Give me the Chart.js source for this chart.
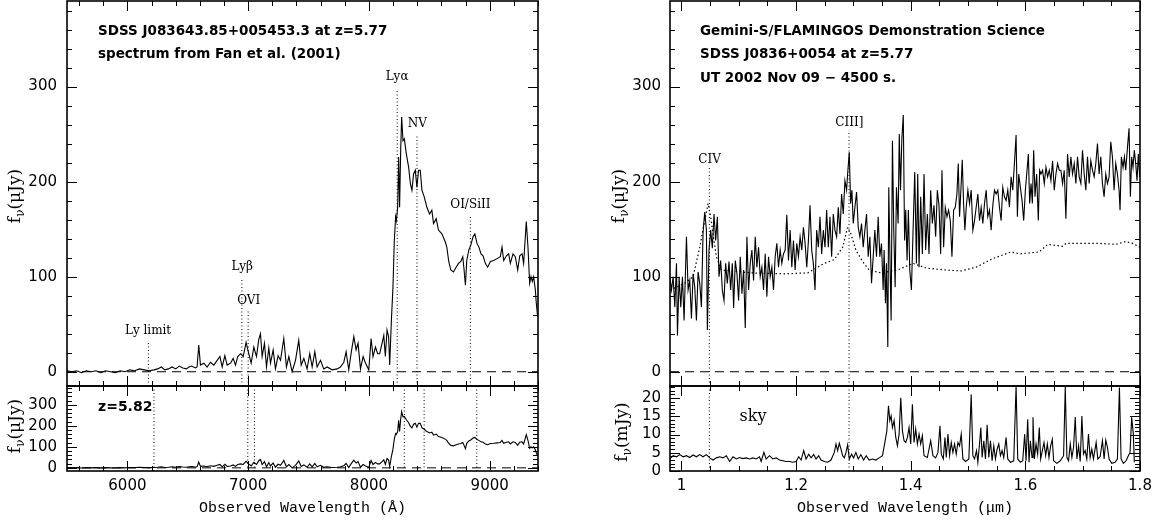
<!DOCTYPE html>
<html>
<head>
<meta charset="utf-8">
<script src="https://cdn.jsdelivr.net/npm/chart.js@4"></script>
<style>
  html, body { margin: 0; padding: 0; background: #fff; }
  #wrap { position: relative; width: 1159px; height: 522px; overflow: hidden; }
  #wrap canvas { position: absolute; }
</style>
</head>
<body>
<div id="wrap">
  <canvas id="tl" width="560" height="392" style="left:0;top:0"></canvas>
  <canvas id="bl" width="560" height="142" style="left:0;top:380px"></canvas>
  <canvas id="tr" width="569" height="392" style="left:590px;top:0"></canvas>
  <canvas id="br" width="569" height="142" style="left:590px;top:380px"></canvas>
</div>
<script>
// ---- data: SDSS optical spectrum (Angstrom, microJy)
var leftWave = [
  5500,5540,5580,5620,5660,5700,5740,5780,5820,5860,
  5900,5940,5980,6020,6060,6100,6140,6180,6220,6251,
  6281,6310,6340,6370,6400,6429,6459,6488,6510,6532,
  6562,6577,6591,6605,6633,6660,6688,6716,6743,6766,
  6785,6807,6826,6854,6876,6895,6914,6937,6959,6983,
  7005,7025,7047,7069,7088,7102,7116,7135,7152,7171,
  7185,7207,7226,7248,7268,7295,7317,7337,7364,7392,
  7419,7439,7461,7488,7510,7530,7552,7571,7599,7626,
  7654,7695,7737,7764,7792,7811,7833,7852,7875,7894,
  7910,7930,7952,7972,7999,8018,8034,8054,8072,8089,
  8109,8123,8136,8150,8163,8172,8186,8199,8210,8221,
  8227,8238,8246,8254,8263,8271,8282,8293,8310,8329,
  8343,8356,8370,8384,8397,8411,8425,8439,8458,8480,
  8502,8521,8535,8557,8576,8604,8631,8645,8661,8678,
  8700,8722,8742,8761,8777,8788,8799,8810,8827,8843,
  8862,8877,8895,8911,8928,8945,8964,8983,9006,9033,
  9061,9088,9102,9116,9138,9157,9171,9193,9212,9232,
  9249,9268,9281,9303,9317,9331,9342,9353,9364,9378,
  9386,9397
];
var leftFlux = [
  1,0,1,-1,1,0,1,-1,1,0,
  -1,1,0,2,1,3,2,1,2,3,
  5,2,3,5,3,6,4,3,5,6,
  4,5,28,7,9,5,10,7,12,16,
  5,17,7,9,14,7,16,19,16,31,
  19,9,26,16,34,40,16,30,5,25,
  9,23,3,17,12,35,5,16,0,12,
  33,7,14,3,19,5,21,5,12,3,
  5,2,3,5,10,21,2,19,37,23,
  30,3,16,9,2,35,16,26,19,19,
  30,38,16,44,37,7,54,89,137,163,
  159,173,226,173,233,268,243,245,229,215,
  198,191,208,212,194,212,212,191,184,173,
  166,170,156,161,149,145,137,131,116,107,
  105,110,114,116,121,107,91,117,128,133,
  142,145,135,131,124,122,114,110,116,117,
  119,121,131,117,122,124,114,124,121,107,
  122,124,114,158,131,93,100,95,100,86,
  72,58
];

// ---- data: FLAMINGOS near-IR spectrum (micron, microJy)
var rightWave = [
  0.9797,0.9826,0.9855,0.9884,0.9913,0.9930,0.9959,0.9988,1.0017,1.0046,
  1.0087,1.0116,1.0145,1.0174,1.0203,1.0232,1.0261,1.0290,1.0319,1.0348,
  1.0377,1.0406,1.0435,1.0452,1.0481,1.0510,1.0539,1.0568,1.0597,1.0626,
  1.0655,1.0684,1.0713,1.0742,1.0771,1.0800,1.0829,1.0858,1.0887,1.0910,
  1.0939,1.0968,1.0997,1.1026,1.1055,1.1084,1.1113,1.1142,1.1171,1.1200,
  1.1229,1.1258,1.1287,1.1316,1.1345,1.1374,1.1403,1.1432,1.1461,1.1490,
  1.1519,1.1548,1.1577,1.1606,1.1635,1.1664,1.1693,1.1722,1.1751,1.1780,
  1.1809,1.1838,1.1867,1.1896,1.1925,1.1954,1.1983,1.2012,1.2041,1.2070,
  1.2099,1.2128,1.2157,1.2186,1.2214,1.2243,1.2272,1.2301,1.2330,1.2359,
  1.2388,1.2417,1.2446,1.2475,1.2504,1.2533,1.2562,1.2591,1.2620,1.2649,
  1.2678,1.2707,1.2736,1.2765,1.2794,1.2823,1.2852,1.2881,1.2899,1.2928,
  1.2951,1.2974,1.2997,1.3026,1.3055,1.3084,1.3113,1.3142,1.3171,1.3200,
  1.3229,1.3258,1.3287,1.3316,1.3345,1.3374,1.3403,1.3432,1.3461,1.3490,
  1.3519,1.3536,1.3559,1.3577,1.3600,1.3617,1.3641,1.3658,1.3681,1.3704,
  1.3728,1.3751,1.3780,1.3800,1.3822,1.3845,1.3870,1.3893,
  1.3913,1.3936,1.3959,1.3983,1.4012,1.4041,1.4070,1.4099,1.4122,1.4145,
  1.4174,1.4203,1.4232,1.4261,1.4290,1.4319,1.4348,1.4377,1.4406,1.4435,
  1.4464,1.4493,1.4522,1.4545,1.4574,1.4603,1.4632,1.4661,1.4690,1.4719,
  1.4748,1.4777,1.4806,1.4829,1.4852,1.4875,1.4899,1.4922,1.4945,1.4968,
  1.4997,1.5026,1.5055,1.5084,1.5113,1.5142,1.5171,1.5200,1.5229,1.5258,
  1.5287,1.5316,1.5345,1.5374,1.5403,1.5432,1.5461,1.5490,1.5519,1.5548,
  1.5577,1.5606,1.5635,1.5664,1.5693,1.5722,1.5751,1.5780,1.5809,1.5838,
  1.5861,1.5884,1.5913,1.5942,1.5971,1.6000,1.6029,1.6052,1.6075,1.6099,
  1.6122,1.6145,1.6168,1.6197,1.6226,1.6249,1.6272,1.6301,1.6330,1.6359,
  1.6388,1.6417,1.6446,1.6475,1.6504,1.6533,1.6562,1.6591,1.6620,1.6649,
  1.6678,1.6707,1.6736,1.6765,1.6794,1.6823,1.6852,1.6881,1.6910,1.6939,
  1.6968,1.6997,1.7026,1.7055,1.7084,1.7113,1.7142,1.7171,1.7200,1.7229,
  1.7258,1.7287,1.7316,1.7345,1.7374,1.7403,1.7432,1.7461,1.7490,1.7519,
  1.7548,1.7577,1.7606,1.7635,1.7652,1.7675,1.7704,1.7728,1.7751,1.7780,
  1.7809,1.7832,1.7855,1.7878,1.7901,1.7925,1.7948,1.7971,1.7994
];
var rightFlux = [
  100,86,100,68,114,38,100,68,100,54,
  142,86,96,56,103,89,54,105,93,68,
  147,168,149,44,128,149,130,166,138,163,
  100,117,86,75,114,93,116,86,114,67,
  117,103,75,121,82,107,46,142,86,114,
  128,96,142,110,131,100,110,86,124,79,
  121,100,110,86,121,135,110,128,114,124,
  128,165,117,149,110,138,107,135,121,142,
  128,152,135,110,137,175,128,114,86,149,
  131,163,124,149,131,170,131,163,121,166,
  149,142,173,145,187,166,201,191,208,231,
  177,191,156,173,189,152,142,156,131,149,
  166,121,142,93,121,149,121,163,121,135,
  86,128,72,114,26,194,107,54,243,149,
  89,194,156,250,191,245,270,138,
  170,117,170,107,86,149,210,114,208,110,
  184,124,208,128,166,124,191,156,175,142,
  191,175,124,212,131,173,163,170,159,121,
  170,173,187,219,163,191,223,177,149,173,
  191,177,191,149,159,173,187,159,173,156,
  177,191,163,170,149,175,191,187,191,173,
  159,194,184,180,191,173,205,191,219,249,
  163,208,194,180,159,191,212,229,177,198,
  177,233,184,208,159,212,208,212,198,215,
  205,212,201,222,191,208,219,212,212,198,
  212,161,229,205,226,208,219,198,226,205,
  198,233,208,191,226,198,222,212,205,219,
  240,208,226,198,184,208,198,205,242,226,
  191,219,208,191,170,226,215,226,212,235,
  256,184,226,215,233,219,201,229,205
];

// ---- data: composite quasar template shown dotted (micron, microJy)
var tplWave = [0.98,1.0058,1.0203,1.0319,1.0406,1.0464,1.051,1.0551,1.0609,1.0696,
  1.1217,1.1797,1.2203,1.2493,1.2667,1.2812,1.2899,1.2957,1.3043,1.3159,
  1.3275,1.3478,1.3768,1.404,1.427,1.462,1.488,1.514,1.543,1.575,
  1.590,1.624,1.639,1.665,1.671,1.729,1.758,1.775,1.787,1.8];
var tplFlux = [86,93,100,131,159,177,163,145,121,107,
  104,103,104,114,118,131,152,145,128,116,
  107,104,107,114,109,107,106,110,119,126,
  124,126,134,132,135,135,134,137,135,131];

// ---- data: sky spectrum (micron, mJy)
var skyWave = [
  0.9797,0.9855,0.9913,0.9971,1.0029,1.0087,1.0145,1.0203,1.0261,1.0319,
  1.0377,1.0435,1.0493,1.0551,1.0609,1.0667,1.0725,1.0783,1.0841,1.0899,
  1.0957,1.1014,1.1072,1.1130,1.1188,1.1246,1.1304,1.1362,1.1391,1.1438,
  1.1478,1.1536,1.1594,1.1652,1.1710,1.1768,1.1826,1.1884,1.1942,1.2000,
  1.2046,1.2087,1.2133,1.2174,1.2220,1.2261,1.2307,1.2348,1.2394,1.2435,
  1.2493,1.2551,1.2609,1.2667,1.2696,1.2725,1.2754,1.2783,1.2812,1.2841,
  1.2870,1.2899,1.2928,1.2968,1.3003,1.3043,1.3084,1.3130,1.3177,1.3223,
  1.3275,1.3333,1.3391,1.3449,1.3507,1.3548,1.3583,1.3612,1.3635,1.3658,
  1.3681,1.3710,1.3739,1.3768,1.3797,1.3826,1.3855,1.3884,1.3913,1.3942,
  1.3971,1.4000,1.4029,1.4058,1.4087,1.4116,1.4145,1.4174,1.4203,1.4232,
  1.4290,1.4348,1.4388,1.4435,1.4475,1.4510,1.4533,1.4568,1.4597,1.4620,
  1.4649,1.4678,1.4707,1.4736,1.4765,1.4794,1.4823,1.4852,1.4881,1.4910,
  1.4957,1.5014,1.5055,1.5084,1.5113,1.5148,1.5171,1.5200,1.5223,1.5246,
  1.5275,1.5304,1.5333,1.5362,1.5391,1.5420,1.5449,1.5478,1.5507,1.5536,
  1.5565,1.5594,1.5623,1.5664,1.5693,1.5739,1.5797,1.5838,1.5867,1.5913,
  1.5954,1.5988,1.6012,1.6041,1.6064,1.6087,1.6116,1.6133,1.6157,1.6186,
  1.6214,1.6243,1.6267,1.6296,1.6325,1.6354,1.6383,1.6412,1.6441,1.6470,
  1.6493,1.6551,1.6609,1.6667,1.6696,1.6725,1.6754,1.6783,1.6812,1.6841,
  1.6870,1.6899,1.6928,1.6957,1.6986,1.7014,1.7043,1.7072,1.7101,1.7130,
  1.7159,1.7188,1.7235,1.7264,1.7304,1.7345,1.7374,1.7403,1.7432,1.7461,
  1.7507,1.7565,1.7606,1.7641,1.7670,1.7710,1.7757,1.7797,1.7826,1.7855,
  1.7884,1.7901
];
var skyFlux = [
  3.3,4.2,3.9,4.5,3.9,4.2,3.7,4.4,3.9,4.5,
  3.9,4.5,3.6,3.0,3.6,3.9,3.6,4.2,2.6,3.9,
  3.3,3.7,3.4,3.6,3.3,3.6,3.3,3.9,2.6,5.1,
  3.3,4.2,3.3,3.6,3.0,2.8,2.6,2.6,2.4,2.6,
  3.9,3.0,5.6,3.3,4.6,3.6,4.5,3.3,4.2,3.0,
  2.6,2.4,3.0,5.1,7.4,5.6,7.6,6.0,4.2,3.6,
  5.1,7.2,3.3,4.6,3.6,5.1,3.3,4.5,3.0,4.2,
  3.0,3.3,3.0,3.6,4.2,7.8,11.0,17.9,13.8,15.1,
  11.9,13.8,9.2,6.9,10.1,20.1,11.0,8.3,7.8,9.2,
  11.9,7.4,18.3,7.8,11.5,7.4,10.1,7.4,9.7,4.2,
  3.7,8.3,4.2,3.6,5.1,12.4,4.6,3.3,9.2,3.7,
  10.1,4.2,7.8,5.1,7.4,4.6,7.8,6.9,10.1,3.3,
  2.6,3.3,21.0,4.2,3.3,5.6,2.4,7.4,11.9,3.7,
  8.3,3.3,12.7,3.7,8.3,2.8,6.9,3.3,6.0,7.4,
  4.2,5.6,3.7,9.2,3.3,2.4,2.8,23.3,3.3,2.4,
  2.8,10.1,2.8,14.2,2.4,8.3,3.7,14.7,3.3,7.4,
  4.6,11.9,3.3,5.6,7.8,4.2,7.4,3.7,6.9,8.7,
  2.8,2.1,2.8,4.2,23.0,3.7,2.8,7.4,3.7,6.5,
  14.8,3.3,6.9,2.6,15.1,4.6,5.6,3.3,10.1,3.7,
  6.0,3.3,7.8,3.3,3.9,8.3,3.3,8.5,6.5,3.3,
  2.1,2.4,3.3,22.9,3.3,2.1,2.8,4.2,5.1,14.7,
  10.1,2.4
];

// ---- emission line markers
var leftLineNames = ['Ly limit', 'Ly\u03b2', 'OVI', 'Ly\u03b1', 'NV', 'OI/SiII'];
var leftLinesZ577 = [6174, 6948, 7000, 8234, 8398, 8840];
var leftLinesZ582 = [6220, 6997, 7052, 8293, 8457, 8893];
var rightLineNames = ['CIV', 'CIII]'];
var rightLines = [1.0487, 1.2924];

var leftXTicks = [6000, 7000, 8000, 9000];
var rightXTicks = [1, 1.2, 1.4, 1.6, 1.8];
var fluxTicks = [0, 100, 200, 300];
var skyTicks = [0, 5, 10, 15, 20];

// ---- helpers
function pts(xs, ys) {
  return xs.map(function (x, i) { return { x: x, y: ys[i] }; });
}
function spectrum(xs, ys) {
  return { data: pts(xs, ys), borderColor: '#000', borderWidth: 1.1, pointRadius: 0, tension: 0 };
}
function vline(x, y0, y1) {
  return { data: [{ x: x, y: y0 }, { x: x, y: y1 }], borderColor: '#000', borderWidth: 1,
           borderDash: [1, 2.5], pointRadius: 0 };
}
function hzero(x0, x1) {
  return { data: [{ x: x0, y: 0 }, { x: x1, y: 0 }], borderColor: '#000', borderWidth: 1,
           borderDash: [9, 6], pointRadius: 0 };
}

// frame, inward ticks, labels
var framePlugin = {
  id: 'frame',
  afterDraw: function (chart, args, o) {
    var ctx = chart.ctx, a = chart.chartArea, sx = chart.scales.x, sy = chart.scales.y;
    ctx.save();
    ctx.strokeStyle = '#000';
    ctx.fillStyle = '#000';
    ctx.lineWidth = 1;

    function ticksX(vals, len) {
      vals.forEach(function (v) {
        var p = Math.round(sx.getPixelForValue(v)) + 0.5;
        ctx.beginPath();
        ctx.moveTo(p, a.bottom); ctx.lineTo(p, a.bottom - len);
        ctx.moveTo(p, a.top); ctx.lineTo(p, a.top + len);
        ctx.stroke();
      });
    }
    function ticksY(vals, len) {
      vals.forEach(function (v) {
        var p = Math.round(sy.getPixelForValue(v)) + 0.5;
        ctx.beginPath();
        ctx.moveTo(a.left, p); ctx.lineTo(a.left + len, p);
        ctx.moveTo(a.right, p); ctx.lineTo(a.right - len, p);
        ctx.stroke();
      });
    }
    function minor(s, step) {
      var out = [];
      for (var k = Math.ceil(s.min / step - 1e-9); k * step <= s.max + 1e-9; k++) out.push(k * step);
      return out;
    }
    ticksX(minor(sx, o.xMinor), 5);
    ticksX(o.xMajor, 10);
    ticksY(minor(sy, o.yMinor), 5);
    ticksY(o.yMajor, 10);

    ctx.lineWidth = 1.6;
    ctx.strokeRect(a.left, a.top, a.right - a.left, a.bottom - a.top);

    (o.notes || []).forEach(function (n) {
      ctx.font = n.font;
      ctx.textAlign = n.align || 'left';
      ctx.textBaseline = 'middle';
      ctx.fillText(n.text, a.left + n.dx, a.top + n.dy);
    });
    (o.lineLabels || []).forEach(function (l) {
      ctx.font = '12px "DejaVu Serif"';
      ctx.textAlign = 'center';
      ctx.textBaseline = 'middle';
      ctx.fillText(l.text, sx.getPixelForValue(l.x), sy.getPixelForValue(l.y));
    });

    if (o.ylabel) {
      var L = o.ylabel;
      var big = '17px "DejaVu Serif"', small = '12px "DejaVu Serif"';
      ctx.translate(L.x, L.y);
      ctx.rotate(-Math.PI / 2);
      ctx.textAlign = 'left';
      ctx.textBaseline = 'middle';
      ctx.font = big;
      var w1 = ctx.measureText(L.main).width, w3 = ctx.measureText(L.tail).width;
      ctx.font = small;
      var w2 = ctx.measureText(L.sub).width;
      var x = -(w1 + w2 + w3) / 2;
      ctx.font = big; ctx.fillText(L.main, x, 0); x += w1;
      ctx.font = small; ctx.fillText(L.sub, x, 5); x += w2;
      ctx.font = big; ctx.fillText(L.tail, x, 0);
    }
    ctx.restore();
  }
};
Chart.register(framePlugin);

function makeChart(id, cfg) {
  var tickFont = { family: 'DejaVu Sans', size: 15 };
  return new Chart(document.getElementById(id), {
    type: 'line',
    data: { datasets: cfg.datasets },
    options: {
      responsive: false,
      animation: false,
      events: [],
      layout: { padding: cfg.padding },
      plugins: { legend: { display: false }, tooltip: { enabled: false }, frame: cfg.frame },
      scales: {
        x: {
          type: 'linear', min: cfg.xMin, max: cfg.xMax, display: cfg.showX,
          afterBuildTicks: function (s) { s.ticks = cfg.xTicks.map(function (v) { return { value: v }; }); },
          afterFit: function (s) {
            s.height = cfg.showX ? 51 : 0;
            s.paddingLeft = 0; s.paddingRight = 0; s.paddingTop = 0; s.paddingBottom = 0;
          },
          grid: { display: false, drawTicks: false },
          border: { display: false },
          ticks: { color: '#000', font: tickFont, padding: 6, maxRotation: 0, autoSkip: false,
                   callback: function (v) { return String(v); } },
          title: { display: true, text: cfg.xTitle, color: '#000',
                   font: { family: 'Liberation Mono', size: 15 }, padding: { top: 0, bottom: 5 } }
        },
        y: {
          type: 'linear', min: cfg.yMin, max: cfg.yMax,
          afterBuildTicks: function (s) { s.ticks = cfg.yTicks.map(function (v) { return { value: v }; }); },
          afterFit: function (s) {
            s.width = cfg.yWidth;
            s.paddingLeft = 0; s.paddingRight = 0; s.paddingTop = 0; s.paddingBottom = 0;
          },
          grid: { display: false, drawTicks: false },
          border: { display: false },
          ticks: { color: '#000', font: tickFont, padding: cfg.yPad, autoSkip: false,
                   callback: function (v) { return String(v); } }
        }
      }
    }
  });
}

// ---- top left: SDSS spectrum
var tlSets = [hzero(5500, 9400), spectrum(leftWave, leftFlux)];
var tlTops = [32, 98, 66, 298, 250, 164];
leftLinesZ577.forEach(function (w, i) { tlSets.push(vline(w, -15, tlTops[i])); });
makeChart('tl', {
  datasets: tlSets, padding: { left: 0, top: 1, right: 22, bottom: 6 },
  xMin: 5500, xMax: 9400, showX: false, xTicks: leftXTicks, xTitle: '',
  yMin: -15, yMax: 390, yTicks: fluxTicks, yWidth: 67, yPad: 10,
  frame: {
    xMajor: leftXTicks, xMinor: 200, yMajor: fluxTicks, yMinor: 20,
    notes: [
      { text: 'SDSS J083643.85+005453.3 at z=5.77', dx: 31, dy: 30, font: 'bold 13.5px "DejaVu Sans"' },
      { text: 'spectrum from Fan et al. (2001)', dx: 31, dy: 53, font: 'bold 13.5px "DejaVu Sans"' }
    ],
    lineLabels: [
      { text: leftLineNames[0], x: 6172, y: 43 },
      { text: leftLineNames[1], x: 6950, y: 110 },
      { text: leftLineNames[2], x: 7005, y: 75 },
      { text: leftLineNames[3], x: 8234, y: 310 },
      { text: leftLineNames[4], x: 8400, y: 261 },
      { text: leftLineNames[5], x: 8840, y: 176 }
    ],
    ylabel: { main: 'f', sub: '\u03bd', tail: '(\u03bcJy)', x: 16, y: 196 }
  }
});

// ---- bottom left: same spectrum with z=5.82 markers
var blSets = [hzero(5500, 9400), spectrum(leftWave, leftFlux)];
leftLinesZ582.forEach(function (w) { blSets.push(vline(w, -15, 390)); });
makeChart('bl', {
  datasets: blSets, padding: { left: 0, top: 6, right: 22, bottom: 0 },
  xMin: 5500, xMax: 9400, showX: true, xTicks: leftXTicks, xTitle: 'Observed Wavelength (\u00c5)',
  yMin: -15, yMax: 390, yTicks: fluxTicks, yWidth: 67, yPad: 10,
  frame: {
    xMajor: leftXTicks, xMinor: 200, yMajor: fluxTicks, yMinor: 20,
    notes: [{ text: 'z=5.82', dx: 31, dy: 21, font: 'bold 14px "DejaVu Sans"' }],
    ylabel: { main: 'f', sub: '\u03bd', tail: '(\u03bcJy)', x: 16, y: 46 }
  }
});

// ---- top right: FLAMINGOS spectrum
var trSets = [hzero(0.98, 1.8),
  Object.assign(spectrum(tplWave, tplFlux), { borderDash: [1.5, 2.5], borderWidth: 1.2 }),
  spectrum(rightWave, rightFlux),
  vline(rightLines[0], -15, 217), vline(rightLines[1], -15, 254)];
makeChart('tr', {
  datasets: trSets, padding: { left: 0, top: 1, right: 19, bottom: 6 },
  xMin: 0.98, xMax: 1.8, showX: false, xTicks: rightXTicks, xTitle: '',
  yMin: -15, yMax: 390, yTicks: fluxTicks, yWidth: 80, yPad: 9,
  frame: {
    xMajor: rightXTicks, xMinor: 0.05, yMajor: fluxTicks, yMinor: 20,
    notes: [
      { text: 'Gemini-S/FLAMINGOS Demonstration Science', dx: 30, dy: 30, font: 'bold 13.5px "DejaVu Sans"' },
      { text: 'SDSS J0836+0054 at z=5.77', dx: 30, dy: 53, font: 'bold 13.5px "DejaVu Sans"' },
      { text: 'UT 2002 Nov 09 \u2212 4500 s.', dx: 30, dy: 77, font: 'bold 13.5px "DejaVu Sans"' }
    ],
    lineLabels: [
      { text: rightLineNames[0], x: 1.049, y: 223 },
      { text: rightLineNames[1], x: 1.2928, y: 262 }
    ],
    ylabel: { main: 'f', sub: '\u03bd', tail: '(\u03bcJy)', x: 30, y: 196 }
  }
});

// ---- bottom right: sky
var brSets = [spectrum(skyWave, skyFlux),
  vline(rightLines[0], 0, 23.3), vline(rightLines[1], 0, 23.3)];
makeChart('br', {
  datasets: brSets, padding: { left: 0, top: 6, right: 19, bottom: 0 },
  xMin: 0.98, xMax: 1.8, showX: true, xTicks: rightXTicks, xTitle: 'Observed Wavelength (\u03bcm)',
  yMin: 0, yMax: 23.3, yTicks: skyTicks, yWidth: 80, yPad: 9,
  frame: {
    xMajor: rightXTicks, xMinor: 0.05, yMajor: skyTicks, yMinor: 1,
    notes: [{ text: 'sky', dx: 83, dy: 31, align: 'center', font: '16px "DejaVu Serif"' }],
    ylabel: { main: 'f', sub: '\u03bd', tail: '(mJy)', x: 33, y: 52 }
  }
});
</script>
</body>
</html>
